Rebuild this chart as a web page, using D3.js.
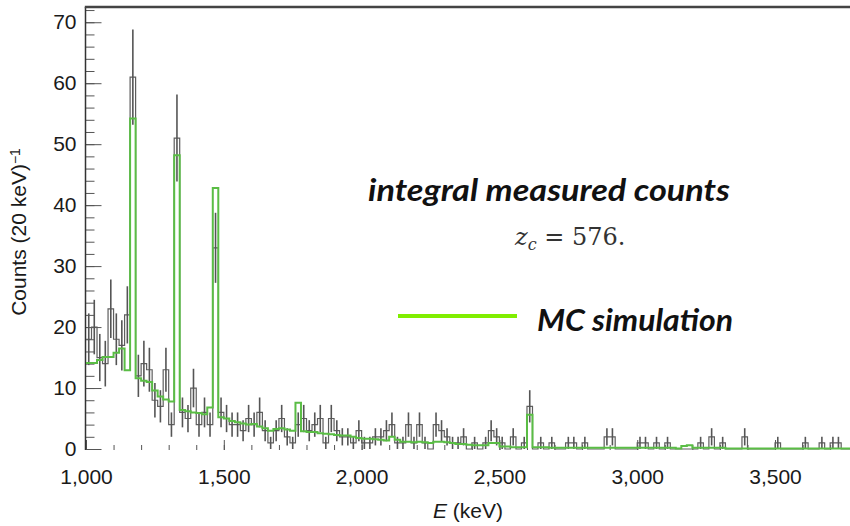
<!DOCTYPE html>
<meta charset="utf-8">
<style>
  body { margin: 0; background: #fff; }
  svg { display: block; }
  .tick text { font-family: "Liberation Sans", Arial, sans-serif; fill: #1a1a1a; }
  .hand { font-family: "Lato", "Open Sans", sans-serif; font-style: italic; font-weight: 700; fill: #111; }
</style>

<script src="https://d3js.org/d3.v7.min.js"></script>

<svg id="chart" width="850" height="526"></svg>
<script>

// spectrum binning (keV)
var binStart = 1000,
    binWidth = 20;

// measured counts per 20 keV bin
var measured = [
  18, 20, 15, 14, 23, 18, 17, 22, 61, 12,
  14, 13, 8, 7, 13, 4, 51, 6, 5, 10,
  4, 6, 4, 33, 6, 5, 4, 4, 3, 5,
  4, 6, 3, 1, 3, 5, 2, 1, 4, 5,
  3, 4, 5, 1, 5, 3, 2, 2, 1, 3,
  1, 1, 2, 2, 3, 4, 1, 1, 4, 1,
  4, 1, 0, 4, 3, 2, 1, 1, 2, 0,
  1, 0, 1, 3, 2, 1, 0, 2, 0, 1,
  7, 0, 1, 0, 1, 0, 0, 1, 1, 0,
  1, 0, 0, 0, 2, 2, 0, 0, 0, 0,
  1, 1, 0, 1, 0, 1, 0, 0, 0, 0,
  0, 1, 0, 2, 0, 1, 0, 0, 0, 2,
  0, 0, 0, 0, 0, 1, 0, 0, 0, 0,
  1, 0, 0, 1, 0, 1, 1, 0, 0
];

// MC simulation, same bins
var simulated = [
  14.1, 14.1, 14.6, 15.1, 15.1, 15.8, 16.5, 12.9, 54.2, 11.6,
  11.2, 11.0, 9.6, 8.6, 8.1, 7.8, 48.2, 6.4, 6.2, 6.0,
  5.9, 5.7, 6.8, 42.8, 5.2, 5.0, 4.6, 4.4, 4.2, 4.0,
  4.1, 3.7, 3.4, 3.0, 3.3, 3.4, 3.2, 3.0, 7.6, 2.9,
  2.8, 2.8, 2.6, 2.5, 2.4, 2.3, 2.2, 2.2, 2.0, 1.8,
  1.7, 1.7, 1.6, 1.5, 1.4, 2.0, 1.5, 1.2, 1.2, 1.1,
  1.2, 1.1, 1.0, 1.2, 1.2, 1.1, 1.0, 0.8, 0.8, 0.7,
  0.6, 0.6, 0.6, 1.0, 1.0, 0.4, 0.4, 0.3, 0.3, 0.3,
  5.6, 0.3, 0.3, 0.3, 0.2, 0.2, 0.2, 0.2, 0.2, 0.2,
  0.2, 0.2, 0.2, 0.2, 0.2, 0.2, 0.2, 0.2, 0.2, 0.2,
  0.2, 0.2, 0.2, 0.2, 0.2, 0.2, 0.2, 0.1, 0.5, 0.6,
  0.2, 0.2, 0.2, 0.2, 0.2, 0.2, 0.1, 0.1, 0.1, 0.1,
  0.1, 0.1, 0.1, 0.1, 0.1, 0.1, 0.1, 0.1, 0.1, 0.1,
  0.1, 0.1, 0.1, 0.1, 0.1, 0.1, 0.1, 0.1, 0.1
];

var xTicks = [1000, 1500, 2000, 2500, 3000, 3500];
var xMinorTicks = d3.range(1000, 3800, 100);
var yTicks = [0, 10, 20, 30, 40, 50, 60, 70];
var yMinorTicks = d3.range(0, 73, 2);

var svg = d3.select("#chart");

var plotLeft = 86, plotRight = 850, plotTop = 7, plotBottom = 449;

var x = d3.scaleLinear().domain([1000, 3772]).range([plotLeft, plotRight]);
var y = d3.scaleLinear().domain([0, 72.5]).range([plotBottom, plotTop]);

svg.append("clipPath").attr("id", "clip")
  .append("rect")
    .attr("x", plotLeft).attr("y", plotTop - 2)
    .attr("width", plotRight - plotLeft).attr("height", plotBottom - plotTop + 4);

// axes
var yMinor = svg.append("g")
    .attr("transform", "translate(" + (plotLeft - 0.5) + ",0)")
    .call(d3.axisLeft(y).tickValues(yMinorTicks).tickSize(-9).tickFormat(""));
var yMajor = svg.append("g")
    .attr("transform", "translate(" + (plotLeft - 0.5) + ",0)")
    .call(d3.axisLeft(y).tickValues(yTicks).tickSize(-16).tickPadding(9));
yMajor.selectAll("text").style("font-size", "21px");

var xMinor = svg.append("g")
    .attr("transform", "translate(0," + (plotBottom + 1) + ")")
    .call(d3.axisBottom(x).tickValues(xMinorTicks).tickSize(-5).tickFormat(""));
var xMajor = svg.append("g")
    .attr("transform", "translate(0," + (plotBottom + 1) + ")")
    .call(d3.axisBottom(x).tickValues(xTicks).tickSize(-10).tickPadding(19).tickFormat(d3.format(",")));
xMajor.selectAll("text").style("font-size", "21px");

svg.selectAll(".domain").remove();
svg.selectAll(".tick line").attr("stroke", "#555");

// frame: left axis and top border
svg.append("line")
    .attr("x1", plotLeft - 0.5).attr("x2", plotLeft - 0.5)
    .attr("y1", plotTop).attr("y2", plotBottom + 1)
    .attr("stroke", "#333").attr("stroke-width", 1.5);
svg.append("line")
    .attr("x1", plotLeft - 1.2).attr("x2", plotRight)
    .attr("y1", plotTop).attr("y2", plotTop)
    .attr("stroke", "#444").attr("stroke-width", 2.5);

// histograms
function stepPoints(vals) {
  var pts = vals.map(function(v, i) { return [binStart + i * binWidth, v]; });
  pts.push([binStart + vals.length * binWidth, vals[vals.length - 1]]);
  return pts;
}
var step = d3.line()
    .x(function(d) { return x(d[0]); })
    .y(function(d) { return y(d[1]); })
    .curve(d3.curveStepAfter);

var plot = svg.append("g").attr("clip-path", "url(#clip)");

plot.append("path")
    .attr("d", step(stepPoints(measured)))
    .attr("fill", "none")
    .attr("stroke", "#5e5e5e")
    .attr("stroke-width", 1.2);

plot.selectAll(".err")
  .data(measured.map(function(v, i) { return {i: i, v: v}; }).filter(function(d) { return d.v > 0; }))
  .enter().append("line")
    .attr("class", "err")
    .attr("x1", function(d) { return x(binStart + (d.i + 0.5) * binWidth); })
    .attr("x2", function(d) { return x(binStart + (d.i + 0.5) * binWidth); })
    .attr("y1", function(d) { return y(d.v + Math.sqrt(d.v)); })
    .attr("y2", function(d) { return y(Math.max(0, d.v - Math.sqrt(d.v))); })
    .attr("stroke", "#555")
    .attr("stroke-width", 1.6);

plot.append("path")
    .attr("d", step(stepPoints(simulated)))
    .attr("fill", "none")
    .attr("stroke", "#5abd45")
    .attr("stroke-width", 2);

// axis titles
svg.append("text")
    .attr("transform", "translate(26,232) rotate(-90)")
    .attr("text-anchor", "middle")
    .style("font-family", "Liberation Sans, Arial, sans-serif")
    .style("font-size", "21px")
    .attr("fill", "#1a1a1a")
    .text("Counts (20 keV)")
  .append("tspan")
    .attr("dy", "-0.45em")
    .style("font-size", "14px")
    .text("\u22121");

var xt = svg.append("text")
    .attr("x", 468).attr("y", 518)
    .attr("text-anchor", "middle")
    .style("font-family", "Liberation Sans, Arial, sans-serif")
    .style("font-size", "21px")
    .attr("fill", "#1a1a1a");
xt.append("tspan").style("font-style", "italic").text("E");
xt.append("tspan").text(" (keV)");

// annotations
svg.append("text").attr("class", "hand")
    .attr("x", 368).attr("y", 201)
    .attr("textLength", 362).attr("lengthAdjust", "spacingAndGlyphs")
    .style("font-size", "30px")
    .text("integral measured counts");

var zc = svg.append("text")
    .attr("x", 515).attr("y", 245)
    .style("font-family", "DejaVu Serif, Liberation Serif, serif")
    .style("font-size", "24px")
    .attr("fill", "#333");
zc.append("tspan").style("font-style", "italic").text("z");
zc.append("tspan").attr("dy", 5).style("font-size", "16px").style("font-style", "italic").text("c");
zc.append("tspan").attr("dy", -5).text(" = 576.");

svg.append("line")
    .attr("x1", 398).attr("x2", 517)
    .attr("y1", 316).attr("y2", 316)
    .attr("stroke", "#80ee00").attr("stroke-width", 4);

svg.append("text").attr("class", "hand")
    .attr("x", 537).attr("y", 331)
    .attr("textLength", 196).attr("lengthAdjust", "spacingAndGlyphs")
    .style("font-size", "31px")
    .text("MC simulation");

</script>
